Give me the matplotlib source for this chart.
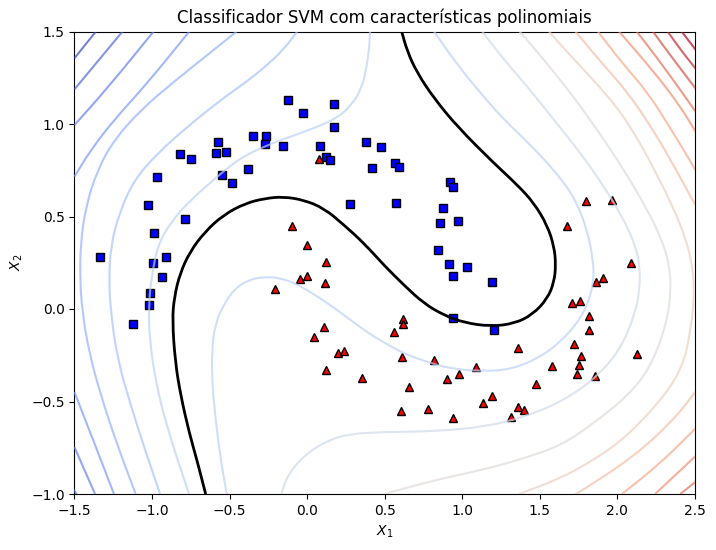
"""
plot.py
-------
SVM with polynomial features on the moons data: points, decision boundary
and the decision function contour lines, all read off the picture.
"""

import numpy as np
import matplotlib
matplotlib.use("Agg")
import matplotlib.pyplot as plt
from matplotlib.path import Path
from matplotlib.patches import PathPatch

# ── points ────────────────────────────────────────────────────────────────────

blue_x = [-0.121, 0.172, -0.024, 0.176, -0.346, -0.263, -0.269, -0.572, -0.153, 0.085,
          -0.585, -0.520, -0.817, -0.746, 0.124, 0.146, 0.382, 0.477, 0.421, -0.379,
          -0.550, -0.486, -0.969, -1.027, 0.279, -0.785, -0.985, -1.333, -0.907, -0.991,
          -0.933, -1.011, -1.017, -1.120, 0.569, 0.595, 0.920, 0.943, 0.575, 0.878,
          0.859, 0.975, 0.846, 0.917, 1.033, 0.937, 1.194, 0.943, 1.205]
blue_y = [1.128, 1.106, 1.058, 0.984, 0.933, 0.937, 0.892, 0.903, 0.879, 0.879,
          0.842, 0.847, 0.836, 0.809, 0.823, 0.804, 0.901, 0.874, 0.760, 0.755,
          0.723, 0.680, 0.712, 0.560, 0.566, 0.485, 0.409, 0.280, 0.280, 0.250,
          0.171, 0.085, 0.020, -0.083, 0.788, 0.768, 0.685, 0.658, 0.571, 0.544,
          0.463, 0.474, 0.317, 0.242, 0.225, 0.177, 0.144, -0.050, -0.113]

red_x = [0.079, -0.095, 0.002, 0.124, 0.002, -0.043, 0.118, -0.207, 0.111, 0.047,
         0.201, 0.236, 0.124, 0.356, 1.800, 1.964, 1.672, 2.088, 1.910, 1.859,
         1.758, 1.710, 1.820, 1.820, 1.723, 1.768, 1.751, 1.742, 1.857, 2.123,
         1.362, 1.581, 1.472, 1.091, 0.982, 0.904, 0.820, 0.614, 0.659, 0.562,
         0.621, 0.621, 0.608, 0.782, 0.943, 1.136, 1.194, 1.317, 1.362, 1.401]
red_y = [0.810, 0.450, 0.346, 0.252, 0.176, 0.163, 0.140, 0.108, -0.098, -0.152,
         -0.238, -0.229, -0.332, -0.375, 0.583, 0.587, 0.448, 0.247, 0.169, 0.145,
         0.045, 0.034, -0.037, -0.114, -0.188, -0.254, -0.303, -0.352, -0.363, -0.242,
         -0.210, -0.307, -0.404, -0.312, -0.352, -0.377, -0.274, -0.260, -0.420, -0.123,
         -0.053, -0.080, -0.550, -0.539, -0.588, -0.508, -0.469, -0.583, -0.529, -0.545]

# ── contour lines (x, y), lowest level first ──────────────────────────────────

boundary = [(-0.654, -1.0), (-0.707, -0.827), (-0.761, -0.665), (-0.815, -0.467), (-0.850, -0.287),
            (-0.869, -0.060), (-0.856, 0.066), (-0.819, 0.193), (-0.755, 0.310), (-0.658, 0.418),
            (-0.540, 0.508), (-0.400, 0.571), (-0.271, 0.598), (-0.153, 0.607), (-0.020, 0.589),
            (0.109, 0.544), (0.238, 0.454), (0.367, 0.355), (0.496, 0.236), (0.625, 0.128),
            (0.754, 0.029), (0.883, -0.034), (1.012, -0.074), (1.184, -0.094), (1.334, -0.079),
            (1.452, -0.031), (1.549, 0.056), (1.592, 0.146), (1.603, 0.240), (1.592, 0.337),
            (1.549, 0.450), (1.463, 0.572), (1.356, 0.670), (1.205, 0.787), (0.969, 0.985),
            (0.818, 1.139), (0.711, 1.274), (0.646, 1.391), (0.606, 1.51)]

level_00 = [[(-1.5, 1.355), (-1.352, 1.51)]]
level_01 = [[(-1.5, 1.187), (-1.18, 1.51)],
            [(-1.51, -0.97), (-1.48, -1.01)]]
level_02 = [[(-1.5, 0.994), (-1.288, 1.193), (-0.98, 1.51)],
            [(-1.5, -0.746), (-1.367, -1.0)]]
level_03 = [[(-1.5, 0.715), (-1.395, 0.859), (-1.245, 1.022), (-1.030, 1.220), (-0.75, 1.51)],
            [(-1.5, -0.449), (-1.374, -0.719), (-1.245, -1.0)]]
level_04 = [[(-0.44, 1.51), (-0.643, 1.373), (-0.858, 1.229), (-1.073, 1.076), (-1.245, 0.913),
             (-1.352, 0.751), (-1.427, 0.553), (-1.460, 0.355), (-1.464, 0.164), (-1.449, -0.016),
             (-1.406, -0.232), (-1.330, -0.467), (-1.223, -0.737), (-1.105, -1.0)]]
level_05 = [[(-0.055, 1.51), (-0.153, 1.400), (-0.282, 1.301), (-0.390, 1.229), (-0.557, 1.130),
             (-0.772, 0.985), (-0.965, 0.841), (-1.116, 0.697), (-1.212, 0.517), (-1.266, 0.337),
             (-1.277, 0.164), (-1.266, -0.016), (-1.223, -0.269), (-1.137, -0.521), (-1.040, -0.773),
             (-0.948, -1.0)]]
level_06 = [[(0.406, 1.51), (0.401, 1.418), (0.384, 1.310), (0.352, 1.193), (0.287, 1.103),
             (0.191, 1.030), (0.040, 0.976), (-0.110, 0.931), (-0.282, 0.877), (-0.411, 0.823),
             (-0.497, 0.773), (-0.600, 0.700), (-0.750, 0.590), (-0.879, 0.470), (-0.965, 0.340),
             (-1.004, 0.164), (-1.019, 0.038), (-1.019, -0.142), (-0.976, -0.395), (-0.901, -0.647),
             (-0.761, -1.0)],
            [(-0.518, -1.0), (-0.560, -0.800), (-0.594, -0.564), (-0.611, -0.411), (-0.615, -0.230),
             (-0.594, -0.086), (-0.540, 0.022), (-0.465, 0.111), (-0.379, 0.157), (-0.271, 0.175),
             (-0.164, 0.166), (-0.056, 0.130), (0.051, 0.076), (0.180, 0.004), (0.367, -0.115),
             (0.496, -0.182), (0.625, -0.241), (0.775, -0.287), (0.926, -0.323), (1.141, -0.337),
             (1.313, -0.326), (1.485, -0.269), (1.635, -0.178), (1.764, -0.052), (1.828, 0.074),
             (1.846, 0.164), (1.846, 0.247), (1.807, 0.427), (1.721, 0.607), (1.592, 0.751),
             (1.420, 0.904), (1.270, 1.022), (1.119, 1.166), (0.969, 1.319), (0.810, 1.51)]]
level_07 = [[(1.12, 1.51), (1.270, 1.346), (1.420, 1.202), (1.592, 1.022), (1.764, 0.841),
             (1.914, 0.661), (2.043, 0.481), (2.119, 0.337), (2.145, 0.220), (2.143, 0.103),
             (2.115, -0.023), (2.018, -0.222), (1.846, -0.384), (1.635, -0.503), (1.399, -0.584),
             (1.141, -0.638), (0.818, -0.661), (0.496, -0.665), (0.281, -0.674), (0.131, -0.710),
             (-0.020, -0.791), (-0.127, -0.899), (-0.166, -1.0)]]
level_08 = [[(1.36, 1.51), (1.528, 1.346), (1.700, 1.166), (1.872, 0.967), (2.043, 0.751),
             (2.194, 0.535), (2.287, 0.373), (2.335, 0.240), (2.345, 0.103), (2.319, -0.077),
             (2.211, -0.320), (2.061, -0.474), (1.846, -0.618), (1.631, -0.741), (1.356, -0.818),
             (1.141, -0.867), (0.818, -0.926), (0.496, -1.0)]]
level_09 = [[(1.55, 1.51), (1.631, 1.429), (1.953, 1.141), (2.104, 0.960), (2.233, 0.762),
             (2.362, 0.546), (2.443, 0.373), (2.480, 0.247), (2.495, 0.121), (2.486, -0.023),
             (2.459, -0.168), (2.426, -0.294), (2.319, -0.456), (2.061, -0.690), (1.846, -0.817),
             (1.631, -0.916), (1.366, -1.0)]]
level_10 = [[(1.72, 1.51), (1.889, 1.339), (2.061, 1.177), (2.222, 0.980), (2.372, 0.762),
             (2.51, 0.55)],
            [(2.51, -0.44), (2.362, -0.600), (2.104, -0.799), (1.760, -0.988), (1.717, -1.006)]]
level_11 = [[(1.865, 1.51), (2.039, 1.321), (2.190, 1.177), (2.340, 0.980), (2.469, 0.800),
             (2.51, 0.74)],
            [(2.51, -0.64), (2.276, -0.835), (2.029, -1.0)]]
level_12 = [[(2.0, 1.51), (2.233, 1.285), (2.405, 1.096), (2.51, 0.95)],
            [(2.51, -0.79), (2.243, -1.0)]]
level_13 = [[(2.115, 1.51), (2.297, 1.312), (2.51, 1.06)],
            [(2.51, -0.93), (2.405, -1.0)]]
level_14 = [[(2.22, 1.51), (2.362, 1.348), (2.51, 1.185)]]
level_15 = [[(2.315, 1.51), (2.415, 1.393), (2.51, 1.293)]]
level_16 = [[(2.405, 1.51), (2.51, 1.395)]]

levels = [level_00, level_01, level_02, level_03, level_04, level_05, level_06, level_07, level_08,
          level_09, level_10, level_11, level_12, level_13, level_14, level_15, level_16]

x_ticks = [-1.5, -1.0, -0.5, 0.0, 0.5, 1.0, 1.5, 2.0, 2.5]
y_ticks = [-1.0, -0.5, 0.0, 0.5, 1.0, 1.5]


def curve_patch(points, **kwargs):
    # quadratic curves with the read points as control points
    pts = np.array(points)
    if len(pts) < 3:
        return PathPatch(Path(pts), fill=False, **kwargs)
    mids = (pts[:-1] + pts[1:]) / 2
    verts = [pts[0], mids[0]]
    codes = [Path.MOVETO, Path.LINETO]
    for ctrl, mid in zip(pts[1:-1], mids[1:]):
        verts += [ctrl, mid]
        codes += [Path.CURVE3, Path.CURVE3]
    verts.append(pts[-1])
    codes.append(Path.LINETO)
    return PathPatch(Path(verts, codes), fill=False, **kwargs)


# ── figure ────────────────────────────────────────────────────────────────────

fig = plt.figure(figsize=(7.16, 5.5), dpi=100)
ax = fig.add_axes([74.4 / 716, 56 / 550, 620.6 / 716, 462.5 / 550])

ax.plot(blue_x, blue_y, "bs", mec="k")
ax.plot(red_x, red_y, "r^", mec="k", ms=6.2)

for i, level in enumerate(levels):
    color = plt.cm.coolwarm(min(i / 15.5, 1.0))
    for segment in level:
        ax.add_patch(curve_patch(segment, edgecolor=color, alpha=0.7, linewidth=1.5, zorder=4))

ax.add_patch(curve_patch(boundary, edgecolor="k", linewidth=2, zorder=5))

ax.set_xlim(-1.5, 2.5)
ax.set_ylim(-1.0, 1.5)
ax.set_xticks(x_ticks)
ax.set_yticks(y_ticks)
ax.set_xlabel("$X_1$")
ax.set_ylabel("$X_2$")
ax.set_title("Classificador SVM com características polinomiais")

fig.savefig("out.png", dpi=100)
